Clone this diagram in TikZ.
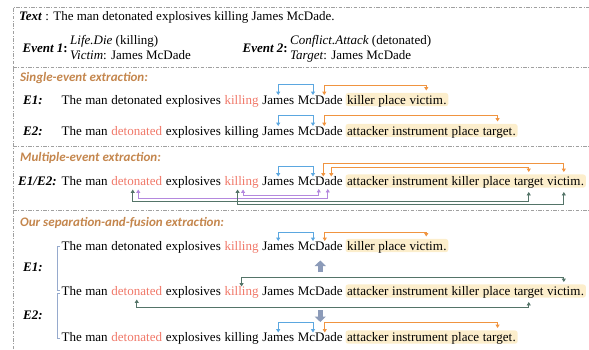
\documentclass[tikz,border=0pt]{standalone}
\usepackage{fontspec}
\setmainfont{Liberation Serif}
\newfontfamily\hdrfont{Carlito}
\usetikzlibrary{arrows.meta,backgrounds,fit}
\definecolor{blA}{RGB}{91,167,224}
\definecolor{orA}{RGB}{240,148,64}
\definecolor{grA}{RGB}{84,116,104}
\definecolor{puA}{RGB}{180,136,222}
\definecolor{trigc}{RGB}{240,120,105}
\definecolor{hlc}{RGB}{252,238,204}
\definecolor{hdrc}{RGB}{196,134,77}
\definecolor{brkc}{RGB}{150,170,205}
\definecolor{thkc}{RGB}{140,155,185}
\definecolor{bordc}{RGB}{160,160,160}
\newcommand\wf{\fontsize{13.05}{15}\selectfont}
\newcommand\tf{\fontsize{13}{15}\selectfont}
\newcommand\spc{3.26pt}
\tikzset{
  w/.style={inner sep=0pt, anchor=base west, font=\wf},
  tw/.style={inner sep=0pt, anchor=base west, font=\tf},
  trg/.style={text=trigc},
  hdr/.style={inner sep=0pt, anchor=base west, font=\hdrfont\bfseries\itshape\fontsize{13}{15}\selectfont, text=hdrc},
  lbl/.style={inner sep=0pt, anchor=base west, font=\wf\bfseries\itshape},
  hlbox/.style={fill=hlc, rounded corners=2.5pt, inner xsep=1.5pt, inner ysep=1.8pt},
  con/.style={line width=0.8pt, {Triangle[width=4pt,length=3.4pt]}-{Triangle[width=4pt,length=3.4pt]}},
  bl/.style={con, draw=blA},
  or/.style={con, draw=orA},
  gr/.style={con, draw=grA},
  pu/.style={con, draw=puA},
  border/.style={draw=bordc, line width=0.7pt, dash pattern=on 3.5pt off 1.5pt on 1pt off 1.5pt},
  thk/.style={draw=thkc, line width=4.5pt, -{Triangle[width=11pt,length=5.5pt]}},
  brk/.style={draw=brkc, line width=1pt},
}
\newcommand\sent[5]{%
  \node[w] (#1a) at (#2,#3) {The man};
  \node[w,#4] (#1b) at ([xshift=\spc]#1a.base east) {detonated};
  \node[w] (#1c) at ([xshift=\spc]#1b.base east) {explosives};
  \node[w,#5] (#1d) at ([xshift=\spc]#1c.base east) {killing};
  \node[w] (#1e) at ([xshift=\spc]#1d.base east) {James};
  \node[w] (#1f) at ([xshift=\spc]#1e.base east) {McDade};
}
\begin{document}
\begin{tikzpicture}[x=1pt,y=-1pt]
\useasboundingbox (0,0) rectangle (589,349);
% borders
\draw[border] (13,349) -- (13,7) -- (589,7);
\draw[border] (13,67) -- (589,67);
\draw[border] (13,146) -- (589,146);
\draw[border] (13,210) -- (589,210);

% top section
\node[tw] (txt) at (19,20) {\textbf{\textit{Text}} : The man detonated explosives killing James McDade.};
\node[tw, anchor=base east] (ev1) at (68,52) {\textbf{\textit{Event 1}:}};
\node[tw] (ev1a) at (70,44.5) {\textit{Life.Die} (killing)};
\node[tw] (ev1b) at (70,59) {\textit{Victim}: James McDade};
\node[tw, anchor=base east] (ev2) at (288,52) {\textbf{\textit{Event 2}:}};
\node[tw] (ev2a) at (290,44.5) {\textit{Conflict.Attack} (detonated)};
\node[tw] (ev2b) at (290,59) {\textit{Target}: James McDade};

% single-event
\node[hdr] (h1) at (20,81.5) {Single-event extraction:};
\node[lbl] (l1) at (23,104) {E1:};
\sent{s}{61.5}{104}{}{trg}
\node[w] (sr1) at ([xshift=\spc+0.8pt]sf.base east) {killer};
\node[w] (sr2) at ([xshift=\spc]sr1.base east) {place};
\node[w] (sr3) at ([xshift=\spc]sr2.base east) {victim};
\node[w] (srp) at (sr3.base east) {.};
\node[lbl] (l2) at (23,135) {E2:};
\sent{t}{61.5}{135}{trg}{}
\node[w] (tr1) at ([xshift=\spc+0.8pt]tf.base east) {attacker};
\node[w] (tr2) at ([xshift=\spc]tr1.base east) {instrument};
\node[w] (tr3) at ([xshift=\spc]tr2.base east) {place};
\node[w] (tr4) at ([xshift=\spc]tr3.base east) {target};
\node[w] (trp) at (tr4.base east) {.};

\draw[bl] ([yshift=9pt]se.base) -- ++(0,-10.5) -| ([xshift=-7.3pt,yshift=9pt]sf.base);
\draw[or] ([xshift=4pt,yshift=9pt]sf.base) -- ++(0,-10) -| ([yshift=13.5pt]sr3.base);
\draw[bl] ([yshift=9pt]te.base) -- ++(0,-10.5) -| ([xshift=-7.3pt,yshift=9pt]tf.base);
\draw[or] ([xshift=4pt,yshift=9pt]tf.base) -- ++(0,-10.5) -| ([yshift=13.5pt]tr4.base);

% multiple-event
\node[hdr] (h2) at (20,161) {Multiple-event extraction:};
\node[lbl] (l3) at (18,185.5) {E1/E2:};
\sent{m}{61.5}{185.5}{trg}{trg}
\node[w] (mr1) at ([xshift=\spc+0.8pt]mf.base east) {attacker};
\node[w] (mr2) at ([xshift=\spc]mr1.base east) {instrument};
\node[w] (mr3) at ([xshift=\spc]mr2.base east) {killer};
\node[w] (mr4) at ([xshift=\spc]mr3.base east) {place};
\node[w] (mr5) at ([xshift=\spc]mr4.base east) {target};
\node[w] (mr6) at ([xshift=\spc]mr5.base east) {victim};
\node[w] (mrp) at (mr6.base east) {.};

\draw[bl] ([yshift=9pt]me.base) -- ++(0,-10.5) -| ([xshift=-7.3pt,yshift=9pt]mf.base);
\draw[or] ([xshift=3pt,yshift=9pt]mf.base) -- ++(0,-13.5) -| ([yshift=13.5pt]mr6.base);
\draw[or] ([xshift=11pt,yshift=9pt]mf.base) -- ++(0,-9.5) -| ([yshift=13.5pt]mr5.base);
\draw[pu] ([xshift=1.5pt,yshift=-4pt]md.base) -- ++(0,5.5) -| ([xshift=-1.5pt,yshift=-3.5pt]mf.base);
\draw[pu] ([xshift=1.5pt,yshift=-4pt]mb.base) -- ++(0,8.5) -| ([xshift=7.5pt,yshift=-3.5pt]mf.base);
\draw[gr] ([xshift=-4pt,yshift=-4pt]mb.base) -- ++(0,11.5) -| ([yshift=-6.5pt]mr5.base);
\draw[gr] ([xshift=-4pt,yshift=-4pt]md.base) -- ++(0,14.5) -| ([yshift=-6.5pt]mr6.base);

% separation-and-fusion
\node[hdr] (h3) at (20,226) {Our separation-and-fusion extraction:};
\node[lbl] (l4) at (23,271) {E1:};
\node[lbl] (l5) at (23,319) {E2:};
\draw[brk] (60,246) -- (57,246) -- (57,290) -- (60,290);
\draw[brk] (60,293) -- (57,293) -- (57,338) -- (60,338);

\sent{p}{61.5}{250}{}{trg}
\node[w] (pr1) at ([xshift=\spc+0.8pt]pf.base east) {killer};
\node[w] (pr2) at ([xshift=\spc]pr1.base east) {place};
\node[w] (pr3) at ([xshift=\spc]pr2.base east) {victim};
\node[w] (prp) at (pr3.base east) {.};
\draw[bl] ([yshift=9pt]pe.base) -- ++(0,-9) -| ([xshift=-7.3pt,yshift=9pt]pf.base);
\draw[or] ([xshift=4.5pt,yshift=9pt]pf.base) -- ++(0,-9) -| ([yshift=13.5pt]pr3.base);

\sent{q}{61.5}{295.5}{trg}{trg}
\node[w] (qr1) at ([xshift=\spc+0.8pt]qf.base east) {attacker};
\node[w] (qr2) at ([xshift=\spc]qr1.base east) {instrument};
\node[w] (qr3) at ([xshift=\spc]qr2.base east) {killer};
\node[w] (qr4) at ([xshift=\spc]qr3.base east) {place};
\node[w] (qr5) at ([xshift=\spc]qr4.base east) {target};
\node[w] (qr6) at ([xshift=\spc]qr5.base east) {victim};
\node[w] (qrp) at (qr6.base east) {.};
\draw[gr] ([yshift=9pt]qd.base) -- ++(0,-9.5) -| ([yshift=13.5pt]qr6.base);
\draw[gr] ([yshift=-4pt]qb.base) -- ++(0,7.5) -| ([yshift=-6.5pt]qr5.base);

\sent{r}{61.5}{341.5}{trg}{}
\node[w] (rr1) at ([xshift=\spc+0.8pt]rf.base east) {attacker};
\node[w] (rr2) at ([xshift=\spc]rr1.base east) {instrument};
\node[w] (rr3) at ([xshift=\spc]rr2.base east) {place};
\node[w] (rr4) at ([xshift=\spc]rr3.base east) {target};
\node[w] (rrp) at (rr4.base east) {.};
\draw[bl] ([yshift=9pt]re.base) -- ++(0,-10.5) -| ([xshift=-7.3pt,yshift=9pt]rf.base);
\draw[or] ([xshift=4.5pt,yshift=9pt]rf.base) -- ++(0,-10.5) -| ([yshift=13.5pt]rr4.base);

% thick arrows between rows
\coordinate (ua) at ([yshift=-22pt]pf.base);
\coordinate (ub) at ([yshift=-10.5pt]pf.base);
\draw[thk] (ua) -- (ub);
\coordinate (da) at ([yshift=-14.5pt]qf.base);
\coordinate (db) at ([yshift=-26.5pt]qf.base);
\draw[thk] (da) -- (db);

% highlight boxes
\begin{scope}[on background layer]
\node[hlbox, fit=(sr1)(srp)] (sbox) {};
\node[hlbox, fit=(tr1)(trp)] (tbox) {};
\node[hlbox, fit=(mr1)(mrp)] (mbox) {};
\node[hlbox, fit=(pr1)(prp)] (pbox) {};
\node[hlbox, fit=(qr1)(qrp)] (qbox) {};
\node[hlbox, fit=(rr1)(rrp)] (rbox) {};
\end{scope}
\end{tikzpicture}
\end{document}
